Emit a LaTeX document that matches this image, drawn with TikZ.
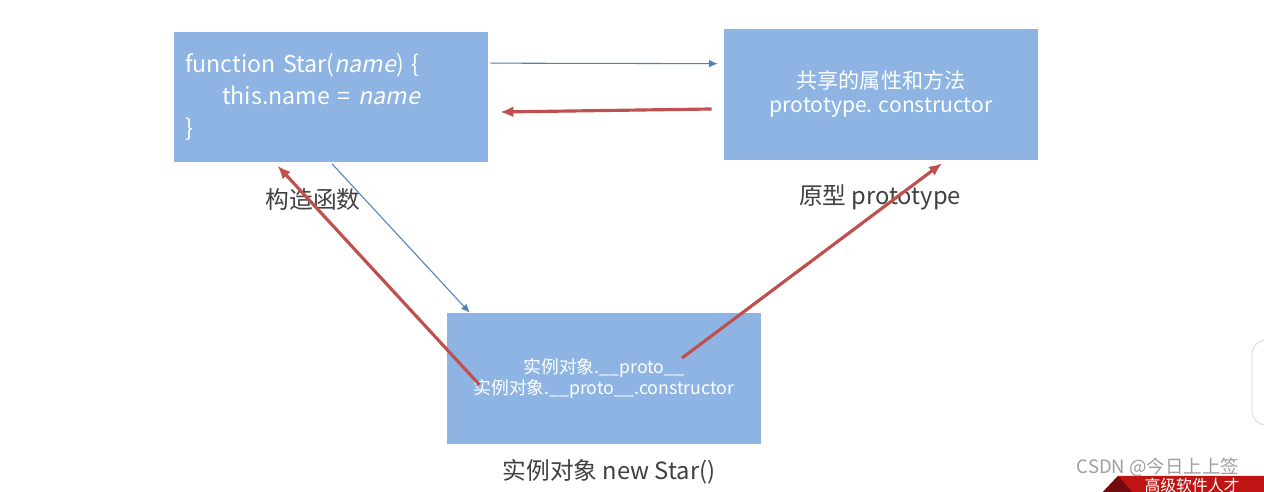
\documentclass[tikz,border=0pt]{standalone}
\usepackage{fontspec}
\setmainfont{Noto Sans CJK SC}[AutoFakeSlant=0.2]
\usepackage{xcolor}
\usetikzlibrary{positioning,arrows.meta}
\definecolor{boxblue}{RGB}{141,180,226}
\definecolor{linkblue}{RGB}{79,129,189}
\definecolor{linkred}{RGB}{192,80,77}
\definecolor{labelgray}{RGB}{64,64,64}
\definecolor{bannerred}{RGB}{190,20,20}

\begin{document}
\begin{tikzpicture}[x=0.02cm, y=-0.02cm,
  box/.style={rectangle, fill=boxblue, minimum width=6.28cm, minimum height=2.62cm, inner sep=0pt, text=white},
  lbl/.style={text=labelgray, font=\fontsize{13.5}{16}\selectfont},
  thinlink/.style={draw=linkblue, line width=0.6pt, -{Latex[length=1.7mm,width=1.5mm]}},
  redlink/.style={draw=linkred, line width=1.8pt, -{Latex[length=2.6mm,width=2.2mm]}}]
\useasboundingbox[fill=white] (0,0) rectangle (1264,492);

% Nodes
\node[box, inner xsep=0.22cm, text width=5.84cm, align=left, font=\fontsize{13.2}{18.2}\selectfont] (ctor) at (331,97)
  {function Star(\textit{name}) \{\\ \hspace*{0.74cm}this.name = \textit{name}\\ \}};
\node[box, align=center, font=\fontsize{12}{13.7}\selectfont] (proto) at (881,94.5)
  {共享的属性和方法\\prototype. constructor};
\node[box, align=center, font=\fontsize{10.1}{12}\selectfont] (inst) at (604,378.5)
  {实例对象.\_\_proto\_\_\\实例对象.\_\_proto\_\_.constructor};

% Labels
\node[lbl] (ctorlbl) at ([shift={(-18,37)}]ctor.south) {构造函数};
\node[lbl] (protolbl) at ([shift={(-1,37)}]proto.south) {原型 prototype};
\node[lbl] (instlbl) at ([shift={(5,27)}]inst.south) {实例对象 new Star()};

% Arrows
\draw[thinlink] ([shift={(2,32)}]ctor.north east) -- ([shift={(-6,35)}]proto.north west);
\draw[redlink] ([shift={(-12,14.5)}]proto.west) -- ([shift={(12,15)}]ctor.east);
\draw[thinlink] ([shift={(1,1)}]ctor.south) -- ([shift={(23,0)}]inst.north west);
\draw[redlink] ([shift={(33,6.5)}]inst.west) -- ([shift={(104,3)}]ctor.south west);
\draw[redlink] ([shift={(78,-20.5)}]inst.center) -- ([shift={(61,3)}]proto.south);

% Screen leftovers
\draw[gray!35, fill=white, rounded corners=8pt] (1252,340) rectangle (1290,425);
\fill[bannerred] (1118,476) -- (1270,476) -- (1270,495) -- (1100,495) -- cycle;
\fill[bannerred!60!black] (1100,495) -- (1118,476) -- (1135,495) -- cycle;
\node[text=white, font=\fontsize{9}{10}\selectfont] (banner) at (1192,485) {高级软件人才};
\node[text=gray!75, font=\fontsize{10.5}{12}\selectfont] (mark) at (1158,467) {CSDN @今日上上签};
\end{tikzpicture}
\end{document}
